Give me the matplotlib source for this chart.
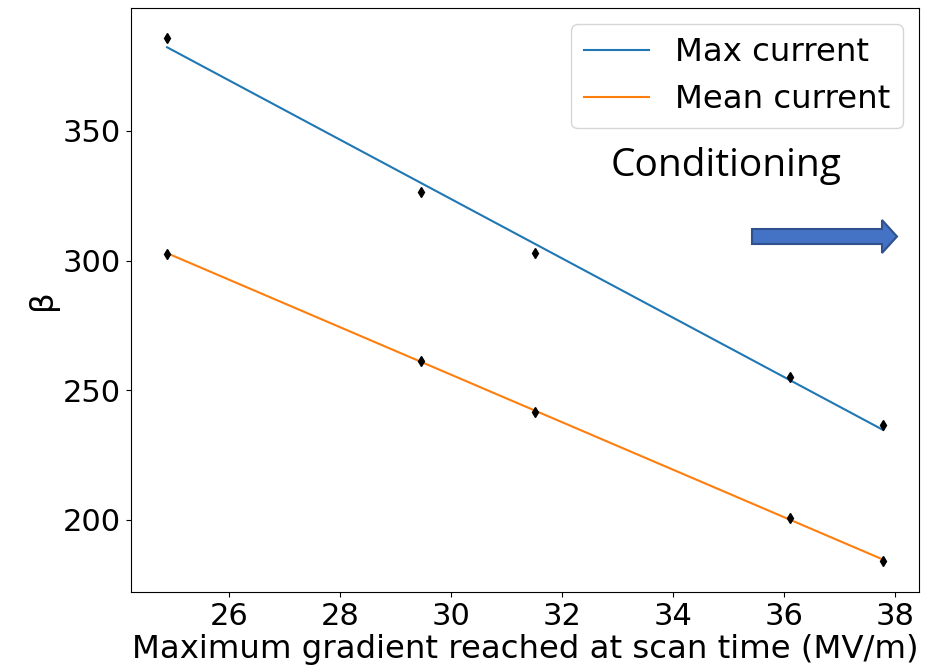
import numpy as np
import matplotlib.pyplot as plt
import matplotlib.patches as mpatches

# gradient at scan time (MV/m) and fitted beta values
gradient = np.array([24.88, 29.46, 31.51, 36.11, 37.78])
beta_max = np.array([385.9, 326.5, 303.0, 255.0, 236.5])
beta_mean = np.array([302.7, 261.2, 241.7, 200.8, 184.0])

plt.rcParams['font.family'] = 'DejaVu Sans'
plt.rcParams['font.size'] = 23.3
plt.rcParams['xtick.labelsize'] = 22
plt.rcParams['ytick.labelsize'] = 22

fig = plt.figure(figsize=(9.36, 6.68), dpi=100)
ax = fig.add_axes([0.140, 0.114, 0.842, 0.874])

# linear fits through each series
p_max = np.polyfit(gradient, beta_max, 1)
p_mean = np.polyfit(gradient, beta_mean, 1)
xf = np.array([gradient.min(), gradient.max()])

ax.plot(xf, np.polyval(p_max, xf), color='tab:blue', lw=1.5, label='Max current')
ax.plot(xf, np.polyval(p_mean, xf), color='tab:orange', lw=1.5, label='Mean current')
ax.plot(gradient, beta_max, 'd', color='black', ms=5)
ax.plot(gradient, beta_mean, 'd', color='black', ms=5)

ax.set_xlim(24.23, 38.43)
ax.set_ylim(172.2, 397.4)
ax.set_xticks([26, 28, 30, 32, 34, 36, 38])
ax.set_yticks([200, 250, 300, 350])
ax.set_xlabel('Maximum gradient reached at scan time (MV/m)', labelpad=2.5)
ax.set_ylabel('β')
ax.legend(loc='upper right')

# "Conditioning" annotation with a block arrow
W, H = 936, 668
fig.text(726 / W, 1 - 166 / H, 'Conditioning', family=['Open Sans', 'DejaVu Sans'],
         fontsize=28, ha='center', va='center')
arrow_px = [(752, 229), (882, 229), (882, 220), (897, 236.5),
            (882, 253), (882, 244), (752, 244)]
arrow = mpatches.Polygon([(x / W, 1 - y / H) for x, y in arrow_px], closed=True,
                         transform=fig.transFigure, facecolor='#4472C4',
                         edgecolor='#2F528F', lw=1.5)
fig.patches.append(arrow)

fig.savefig('out.png', dpi=100)
